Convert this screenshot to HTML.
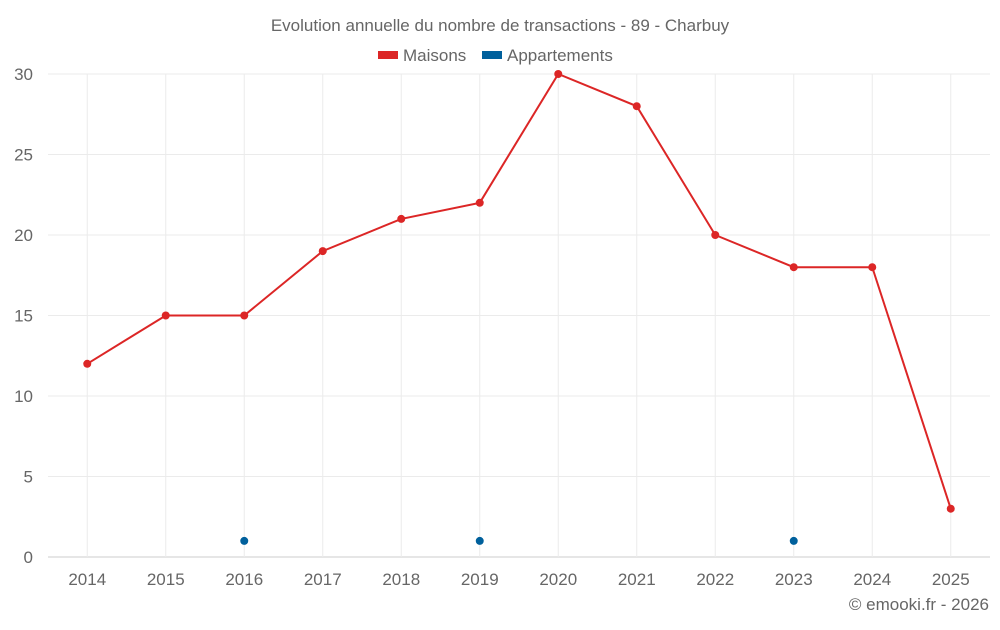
<!DOCTYPE html>
<html><head><meta charset="utf-8"><style>
body{margin:0;background:#fff;font-family:"Liberation Sans",sans-serif;}
svg text{font-family:"Liberation Sans",sans-serif;fill:#666;}
</style></head><body>
<svg id="chart" width="1000" height="625" xmlns="http://www.w3.org/2000/svg">
<text x="500" y="31" text-anchor="middle" font-size="17">Evolution annuelle du nombre de transactions - 89 - Charbuy</text>
<g>
<g><rect x="378" y="51" width="20" height="8" fill="#dc2626"/><text x="403" y="61" font-size="17">Maisons</text></g>
<g><rect x="482" y="51" width="20" height="8" fill="#00609c"/><text x="507" y="61" font-size="17">Appartements</text></g>
</g>
<g id="grid"></g><g id="axes"></g><g id="series"></g>
<text x="989" y="610" text-anchor="end" font-size="17">© emooki.fr - 2026</text>
</svg>
<script>
const categories=["2014","2015","2016","2017","2018","2019","2020","2021","2022","2023","2024","2025"];
const maisons=[12,15,15,19,21,22,30,28,20,18,18,3];
const appartements=[null,null,1,null,null,1,null,null,null,1,null,null];
const yTicks=[0,5,10,15,20,25,30];
const NS="http://www.w3.org/2000/svg";
const L=48,R=990,T=74,B=557,yMax=30;
const bw=(R-L)/categories.length;
const x=i=>L+bw*(i+0.5);
const y=v=>B-(v/yMax)*(B-T);
function mk(tag,attrs,parent){const e=document.createElementNS(NS,tag);for(const k in attrs)e.setAttribute(k,attrs[k]);parent.appendChild(e);return e;}
const grid=document.getElementById('grid'),axes=document.getElementById('axes'),series=document.getElementById('series');
yTicks.forEach(t=>{
 const l=mk('line',{x1:L,x2:R,y1:y(t),y2:y(t),stroke:t===0?'#ccc':'#ebebeb','stroke-width':1},grid);
 
 
 const tx=mk('text',{x:33,y:y(t)+6,'text-anchor':'end','font-size':17},axes);
 tx.textContent=t;
 
 
});
categories.forEach((c,i)=>{
 const l=mk('line',{x1:x(i),x2:x(i),y1:T,y2:B,stroke:'#ebebeb','stroke-width':1},grid);
 
 
 const tx=mk('text',{x:x(i),y:585,'text-anchor':'middle','font-size':17},axes);
 tx.textContent=c;
 
 
});
const p=mk('path',{d:maisons.map((v,i)=>(i?'L':'M')+x(i)+','+y(v)).join(''),fill:'none',stroke:'#dc2626','stroke-width':2},series);


maisons.forEach((v,i)=>{
 const c=mk('circle',{cx:x(i),cy:y(v),r:4,fill:'#dc2626'},series);
 
 
});
appartements.forEach((v,i)=>{
 if(v===null)return;
 const c=mk('circle',{cx:x(i),cy:y(v),r:4,fill:'#00609c'},series);
 
 
});
</script>
</body></html>
